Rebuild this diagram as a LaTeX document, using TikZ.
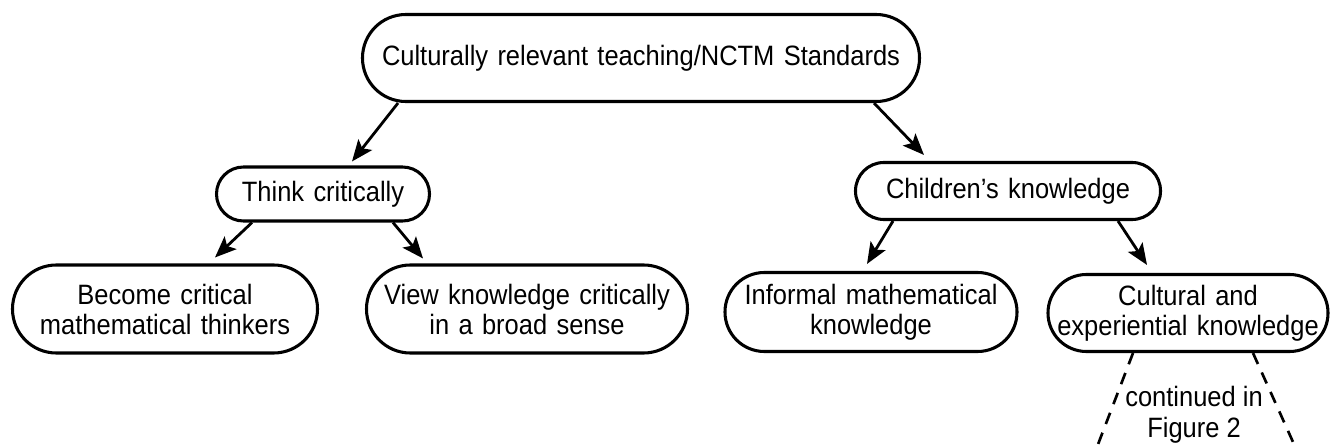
\documentclass[tikz,border=0pt]{standalone}
\usepackage{fontspec}
\setmainfont{Liberation Sans}[FakeStretch=0.91]
\usetikzlibrary{arrows.meta,calc}
\tikzset{
  box/.style={draw=black, line width=2.3pt, rectangle, inner sep=0pt, align=center,
    font=\fontsize{21}{22.5}\selectfont},
  arr/.style={line width=2.1pt, -{Stealth[length=16pt,width=13pt,inset=3.5pt]}},
  dash line/.style={line width=2pt, dash pattern=on 9pt off 7pt},
  note/.style={align=center, inner sep=0pt, font=\fontsize{21}{23}\selectfont}
}
\begin{document}
\begin{tikzpicture}[x=0.75pt,y=-0.75pt]
\useasboundingbox (0,0) rectangle (1331,445);
\node[box, text width=417.75pt, minimum height=65.25pt, rounded corners=32.5pt] (top) at (641,58)
  {Culturally relevant teaching/NCTM Standards};
\node[box, text width=159.75pt, minimum height=40.5pt, rounded corners=20.2pt] (think) at (323,194)
  {Think critically};
\node[box, text width=228.75pt, minimum height=42.75pt, rounded corners=21.3pt] (child) at (1008,191)
  {Children’s knowledge};
\node[box, text width=228.75pt, minimum height=66pt, rounded corners=32.9pt] (become) at (165,309)
  {Become critical\\mathematical thinkers};
\node[box, text width=240.75pt, minimum height=66pt, rounded corners=32.9pt] (view) at (527,309)
  {View knowledge critically\\in a broad sense};
\node[box, text width=219pt, minimum height=59.25pt, rounded corners=29.5pt] (informal) at (871,312)
  {Informal mathematical\\knowledge};
\node[box, text width=210pt, minimum height=57.75pt, rounded corners=28.8pt] (cultural) at (1188,313)
  {Cultural and\\experiential knowledge};
\node[note] (cont) at (1194,415) {continued in\\Figure 2};

\draw[arr] ($(top.south)+(-243,0)$) -- ($(think.north)+(29,-4)$);
\draw[arr] ($(top.south)+(233,0)$) -- ($(child.north)+(-84,-6)$);
\draw[arr] ($(think.south)+(-71,0)$) -- ($(become.north)+(50,-6)$);
\draw[arr] ($(think.south)+(70,0)$) -- ($(view.north)+(-104,-5)$);
\draw[arr] ($(child.south)+(-115,0)$) -- ($(informal.north)+(-4,-7)$);
\draw[arr] ($(child.south)+(110,0)$) -- ($(cultural.north)+(-41,-8)$);

\coordinate (dl) at (1097,447);
\coordinate (dr) at (1293,442);
\draw[dash line] ($(cultural.south)+(-55,0)$) -- (dl);
\draw[dash line] ($(cultural.south)+(65,0)$) -- (dr);
\end{tikzpicture}
\end{document}
